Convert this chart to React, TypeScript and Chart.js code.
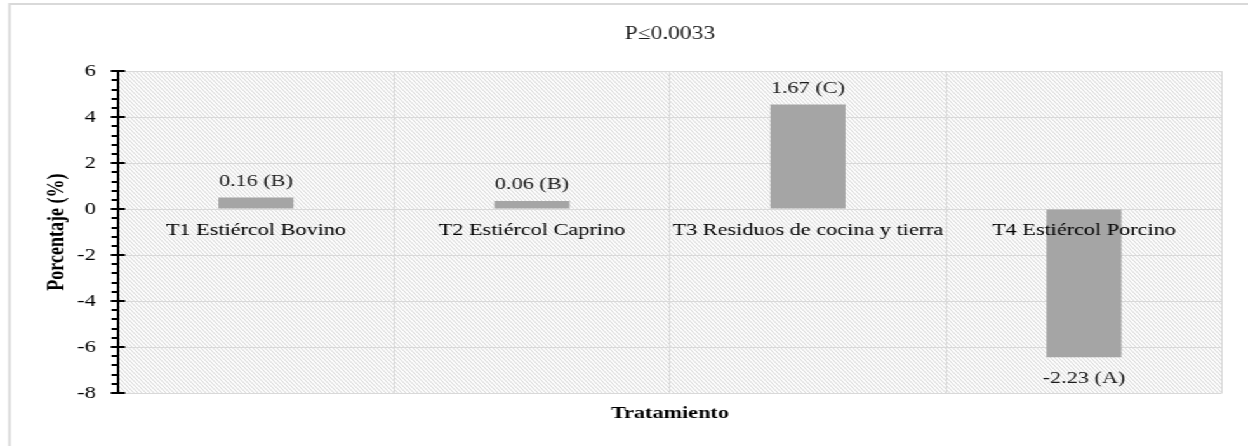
import React, { useEffect, useRef } from 'react';
import { Chart, registerables } from 'chart.js';

Chart.register(...registerables);

// ---- data ----
const categories = [
  'T1 Estiércol Bovino',
  'T2 Estiércol Caprino',
  'T3 Residuos de cocina y tierra',
  'T4 Estiércol Porcino',
];
const barValues = [0.5, 0.35, 4.55, -6.45];
const valueLabels = ['0.16 (B)', '0.06 (B)', '1.67 (C)', '-2.23 (A)'];
const yMin = -8;
const yMax = 6;
const yStep = 2;
const minorPerStep = 5;
const chartTitle = 'P≤0.0033';
const xTitle = 'Tratamiento';
const yTitle = 'Porcentaje (%)';

// ---- layout (internal canvas is horizontally stretched to match the reference) ----
const W = 983;
const H = 446;
const S = 1248 / W;
const FONT = "'Liberation Serif', 'Times New Roman', serif";

const backdrop = {
  id: 'backdrop',
  beforeDraw(chart: any) {
    const { ctx, chartArea: a } = chart;
    ctx.save();
    ctx.fillStyle = '#ffffff';
    ctx.fillRect(0, 0, chart.width, chart.height);
    // outer frame
    ctx.strokeStyle = '#d9d9d9';
    ctx.lineWidth = 2;
    ctx.beginPath();
    ctx.moveTo(7.5, H + 5);
    ctx.lineTo(7.5, 4);
    ctx.lineTo(W + 5, 4);
    ctx.stroke();
    // diagonal hatch in plot area
    ctx.beginPath();
    ctx.rect(a.left, a.top, a.right - a.left, a.bottom - a.top);
    ctx.clip();
    ctx.strokeStyle = '#d4d4d4';
    ctx.lineWidth = 1;
    const h = a.bottom - a.top;
    const dx = h / S;
    const gap = 4 / S;
    ctx.beginPath();
    for (let x = a.left - dx; x < a.right + gap; x += gap) {
      ctx.moveTo(x, a.top);
      ctx.lineTo(x + dx, a.bottom);
    }
    ctx.stroke();
    ctx.restore();
  },
};

const valueLabelPlugin = {
  id: 'valueLabels',
  afterDatasetsDraw(chart: any) {
    const { ctx } = chart;
    const meta = chart.getDatasetMeta(0);
    ctx.save();
    ctx.fillStyle = '#1a1a1a';
    ctx.font = `17.5px ${FONT}`;
    ctx.textAlign = 'center';
    ctx.textBaseline = 'middle';
    meta.data.forEach((bar: any, i: number) => {
      const v = barValues[i];
      const y = v >= 0 ? bar.y - 16.5 : bar.y + 21.5;
      ctx.fillText(valueLabels[i], bar.x, y);
    });
    ctx.restore();
  },
};

const axisTicks = {
  id: 'axisTicks',
  afterDraw(chart: any) {
    const y = chart.scales.y;
    const x0 = chart.chartArea.left;
    const { ctx } = chart;
    ctx.save();
    ctx.strokeStyle = '#000';
    ctx.lineWidth = 2;
    ctx.beginPath();
    y.ticks.forEach((t: any, i: number) => {
      const py = Math.round(y.getPixelForValue(t.value));
      ctx.moveTo(x0 - 5.6, py);
      ctx.lineTo(x0 + 5.6, py);
      if (i < y.ticks.length - 1) {
        const next = y.ticks[i + 1].value;
        for (let k = 1; k < minorPerStep; k++) {
          const v = t.value + ((next - t.value) * k) / minorPerStep;
          const p = Math.round(y.getPixelForValue(v));
          ctx.moveTo(x0 - 5, p);
          ctx.lineTo(x0, p);
        }
      }
    });
    ctx.stroke();
    ctx.restore();
  },
};

export default function App() {
  const ref = useRef<HTMLCanvasElement>(null);

  useEffect(() => {
    if (!ref.current) return;
    const chart = new Chart(ref.current, {
      type: 'bar',
      data: {
        labels: categories,
        datasets: [
          {
            data: barValues,
            backgroundColor: '#a5a5a5',
            borderWidth: 0,
            barPercentage: 0.272,
            categoryPercentage: 1,
          },
        ],
      },
      options: {
        responsive: false,
        animation: false,
        devicePixelRatio: 1,
        layout: { padding: { left: 0, right: 20.5, top: 0, bottom: 22 } },
        plugins: {
          legend: { display: false },
          tooltip: { enabled: false },
          title: {
            display: true,
            text: chartTitle,
            fullSize: false,
            color: '#1a1a1a',
            font: { family: FONT, size: 18.5, weight: 'normal' },
            padding: { top: 23, bottom: 26 },
          },
        },
        scales: {
          x: {
            type: 'category',
            position: { y: 0 },
            offset: true,
            grid: { offset: true, color: '#d9d9d9', lineWidth: 1, drawTicks: false },
            border: { display: false },
            ticks: {
              z: 1,
              padding: 10.5,
              color: '#000',
              autoSkip: false,
              maxRotation: 0,
              font: { family: FONT, size: 17.5 },
            },
          },
          x2: {
            type: 'category',
            position: 'bottom',
            offset: true,
            grid: { display: false, drawTicks: false },
            border: { display: false },
            ticks: { display: false },
            title: {
              display: true,
              text: xTitle,
              color: '#000',
              font: { family: FONT, size: 17.5, weight: 'bold' },
              padding: { top: 10, bottom: 0 },
            },
          },
          y: {
            min: yMin,
            max: yMax,
            ticks: {
              stepSize: yStep,
              padding: 17.5,
              color: '#000',
              font: { family: FONT, size: 17.5 },
            },
            grid: { color: '#d9d9d9', drawTicks: false },
            border: { color: '#000', width: 2 },
            title: {
              display: true,
              text: yTitle,
              color: '#000',
              font: { family: FONT, size: 18, weight: 'bold' },
              padding: { top: 35, bottom: 0 },
            },
            afterFit: (s: any) => {
              s.width = 92.9;
            },
          },
        },
      } as any,
      plugins: [backdrop, valueLabelPlugin, axisTicks],
    });
    return () => chart.destroy();
  }, []);

  return (
    <div
      style={{
        position: 'fixed',
        left: 0,
        top: 0,
        width: W,
        height: H,
        transform: `scaleX(${S})`,
        transformOrigin: '0 0',
        background: '#fff',
      }}
    >
      <canvas ref={ref} width={W} height={H} style={{ display: 'block', width: W, height: H }} />
    </div>
  );
}
